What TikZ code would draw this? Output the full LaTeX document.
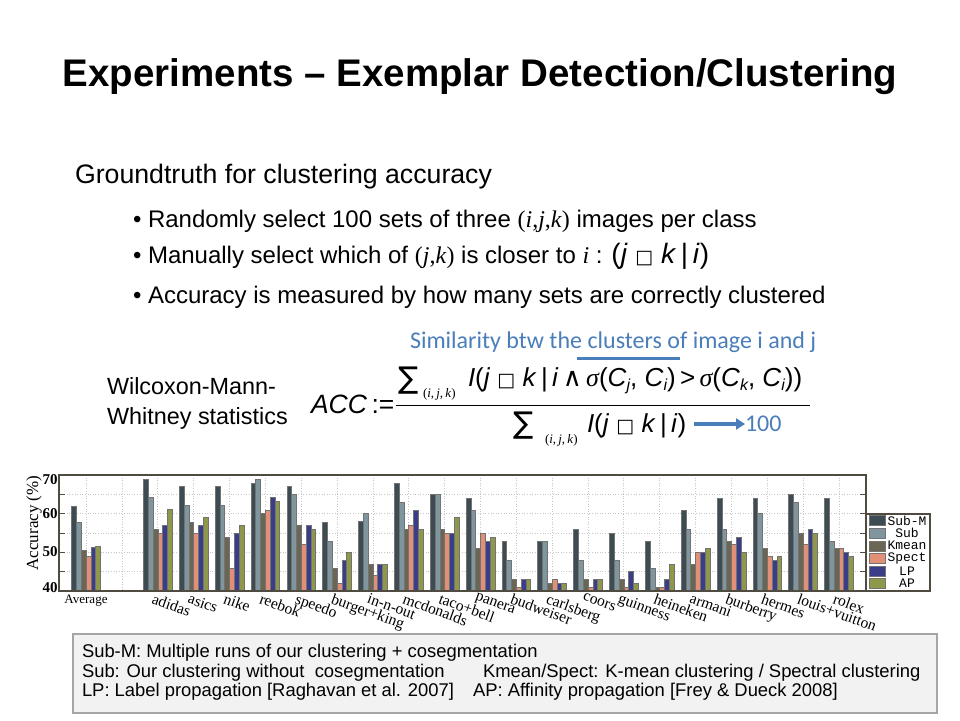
\documentclass[tikz,border=0pt]{standalone}
\usepackage{fontspec}
\setmainfont{Liberation Sans}
\newfontfamily\serifff{Liberation Serif}
\newfontfamily\monoff{Liberation Mono}
\newfontfamily\calff{Carlito}
\newfontfamily\dvff{DejaVu Sans}
\usetikzlibrary{arrows.meta}
\newcommand\fsz[1]{\fontsize{#1pt}{#1pt}\selectfont}
\newcommand\sqch{{\dvff\fsz{19}□}}
\newcommand\wdgch{{\dvff ∧}}
\newcommand\sgm{{\serifff\itshape σ}}
\newcommand\sbs[1]{\raisebox{-0.35ex}{\fsz{16}\itshape #1}}
\definecolor{c0}{HTML}{3D4B52}
\definecolor{c1}{HTML}{7F969E}
\definecolor{c2}{HTML}{6B6553}
\definecolor{c3}{HTML}{E28F77}
\definecolor{c4}{HTML}{3A3E88}
\definecolor{c5}{HTML}{8F984A}
\definecolor{framec}{HTML}{4F4B40}
\definecolor{bluec}{HTML}{4A7EBB}
\definecolor{boxf}{HTML}{F2F2F2}
\definecolor{boxd}{HTML}{A5A5A5}
\tikzset{
  txt/.style={inner sep=0pt, outer sep=0pt},
  bar/.style={draw=black!55, line width=0.4pt},
  gridl/.style={draw=gray!45, dotted, line width=0.6pt},
  framel/.style={draw=framec, line width=1.6pt},
  catlab/.style={txt, font=\serifff\fsz{15.5}, anchor=north west, rotate=-20},
  ticklab/.style={txt, font=\serifff\bfseries\fsz{15}, anchor=east},
  legf/.style={txt, font=\monoff\fsz{13}},
  boxtxt/.style={txt, font=\fsz{18.4}, anchor=base west},
}
\begin{document}
\begin{tikzpicture}[x=1pt,y=-1pt]
\useasboundingbox (0,0) rectangle (960,720);
\fill[white] (0,0) rectangle (960,720);
% title
\node[txt, anchor=base, font=\bfseries\fsz{38.5}] (title) at (480,86) {Experiments – Exemplar Detection/Clustering};
% text
\node[txt, anchor=base west, font=\fsz{26.7}] (gt) at (75,183.5) {Groundtruth for clustering accuracy};
\node[txt, anchor=base west, font=\fsz{24}] (b1) at (133,227) {• Randomly select 100 sets of three {\serifff(\textit{i},\textit{j},\textit{k})} images per class};
\node[txt, anchor=base west, font=\fsz{24}] (b2) at (133,263) {• Manually select which of {\serifff(\textit{j},\textit{k})} is closer to {\serifff\itshape i} : {\fsz{28}(\textit{j} \sqch\ \textit{k}\,|\,\textit{i})}};
\node[txt, anchor=base west, font=\fsz{24}] (b3) at (133,303) {• Accuracy is measured by how many sets are correctly clustered};
% blue annotation
\node[txt, anchor=base west, font=\calff\fsz{24}, text=bluec] (sim) at (410,348) {Similarity btw the clusters of image i and j};
\draw[bluec, line width=3pt] (577,358) -- (680,358);
% Wilcoxon
\node[txt, anchor=base west, font=\fsz{23.4}] (w1) at (107,394) {Wilcoxon-Mann-};
\node[txt, anchor=base west, font=\fsz{23.4}] (w2) at (107,424) {Whitney statistics};
% formula
\node[txt, anchor=base west, font=\fsz{26.5}] (acc) at (311,413) {\textit{ACC}\,:=};
\draw[line width=1pt] (396,405) -- (810,405);
\node[txt, anchor=base west, font=\dvff\fsz{30}] (s1) at (398,388) {∑};
\node[txt, anchor=base west, font=\serifff\fsz{13}] (s1sub) at (423,397) {(\textit{i},\,\textit{j},\,\textit{k})};
\node[txt, anchor=base west, font=\fsz{26}] (num) at (468,386) {\textit{I}(\textit{j} \sqch\ \textit{k}\,|\,\textit{i}\,\wdgch\,\sgm(\textit{C}\sbs{j}, \textit{C}\sbs{i})\,>\,\sgm(\textit{C}\sbs{k}, \textit{C}\sbs{i}))};
\node[txt, anchor=base west, font=\dvff\fsz{30}] (s2) at (513,433) {∑};
\node[txt, anchor=base west, font=\serifff\fsz{13}] (s2sub) at (545,443) {(\textit{i},\,\textit{j},\,\textit{k})};
\node[txt, anchor=base west, font=\fsz{26}] (den) at (587,432) {\textit{I}(\textit{j} \sqch\ \textit{k}\,|\,\textit{i})};
\node[txt, anchor=west, font=\calff\fsz{24}, text=bluec] (hundred) at (745,424) {100};
\coordinate (arrS) at (694,424);
\draw[bluec, line width=3.5pt, -{Triangle[length=9pt,width=11pt]}] (arrS) -- (hundred.west);
% chart grid
\foreach \v in {45,50,55,60,65}
  \draw[gridl] (59,{591-(\v-40)*3.867}) -- (866,{591-(\v-40)*3.867});
\foreach \g in {0,...,21}
  \draw[gridl] ({86+\g*35.85},475) -- ({86+\g*35.85},591);
% bars
\foreach \g/\vals in {0/{61.9,57.8,50.5,49.1,51.3,51.7},2/{69,64.2,56,55,57,61.1},3/{67,62.2,57.9,55,57,59},4/{67,62.2,54,46,55,57},5/{68,69,60,61,64.2,63.1},6/{67,65,57,52,57,56},7/{57.9,53,46,42,48,50},8/{58,60,47,44,47,47},9/{68,63,56,57,61,56},10/{65,65,56,55,55,59},11/{64,61,51,55,53,54},12/{53,48,43,41,43,43},13/{53,53,42,43,42,42},14/{56,48,43,41,43,43},15/{55,48,43,41,45,42},16/{53,46,41,41,43,47},17/{61,56,47,50,50,51},18/{64,56,53,52,54,50},19/{64,60,51,49,48,49},20/{65,63,55,52,56,55},21/{64,53,51,51,50,49}}{
  \foreach \v [count=\k from 0] in \vals {
    \pgfmathsetmacro\xl{86+\g*35.85+(\k-3)*4.8}
    \pgfmathsetmacro\yt{591-(\v-40)*3.867}
    \draw[bar, fill=c\k] (\xl,591) rectangle (\xl+4.8,\yt);
  }
}
% ticks and frame
\foreach \v in {45,50,55,60,65}{
  \draw[framec, line width=0.8pt] (59,{591-(\v-40)*3.867}) -- (65,{591-(\v-40)*3.867});
  \draw[framec, line width=0.8pt] (866,{591-(\v-40)*3.867}) -- (860,{591-(\v-40)*3.867});
}
\draw[framel] (59,475) rectangle (866,591);
\node[ticklab] (t70) at (57.5,480) {70};
\node[ticklab] (t60) at (57.5,514) {60};
\node[ticklab] (t50) at (57.5,552) {50};
\node[ticklab] (t40) at (57.5,588) {40};
\node[txt, rotate=90, font=\serifff\fsz{17}] (ylab) at (34,523) {Accuracy (\%)};
% category labels
\node[txt, font=\serifff\fsz{13}] (labavg) at (86,601) {Average};
\foreach \g/\name in {2/adidas,3/asics,4/nike,5/reebok,6/speedo,7/burger+king,8/in-n-out,9/mcdonalds,10/taco+bell,11/panera,12/budweiser,13/carlsberg,14/coors,15/guinness,16/heineken,17/armani,18/burberry,19/hermes,20/louis+vuitton,21/rolex}
  \node[catlab] (lab\g) at ({86+\g*35.85-3},593) {\name};
% legend
\draw[framel, fill=white, line width=1.2pt] (866,514) rectangle (930,591);
\foreach \n [count=\k from 0] in {Sub-M,Sub,Kmean,Spect,LP,AP}{
  \pgfmathsetmacro\yy{520.5+\k*12.6}
  \draw[bar, fill=c\k] (869,\yy-5) rectangle (885,\yy+5);
  \node[legf] (leg\k) at (907,\yy) {\n};
}
% bottom box
\node[draw=boxd, fill=boxf, line width=1.5pt, minimum width=864pt, minimum height=79pt, anchor=north west, inner sep=0pt] (legbox) at (72,633) {};
\node[boxtxt] (l1) at (82,657) {Sub-M: Multiple runs of our clustering + cosegmentation};
\node[boxtxt] (l2a) at (82,677) {Sub: Our clustering without\ \ cosegmentation};
\node[boxtxt] (l2b) at (483,677) {Kmean/Spect: K-mean clustering / Spectral clustering};
\node[boxtxt] (l3a) at (82,696) {LP: Label propagation [Raghavan et al. 2007]};
\node[boxtxt] (l3b) at (473,696) {AP: Affinity propagation [Frey \& Dueck 2008]};
\end{tikzpicture}
\end{document}
